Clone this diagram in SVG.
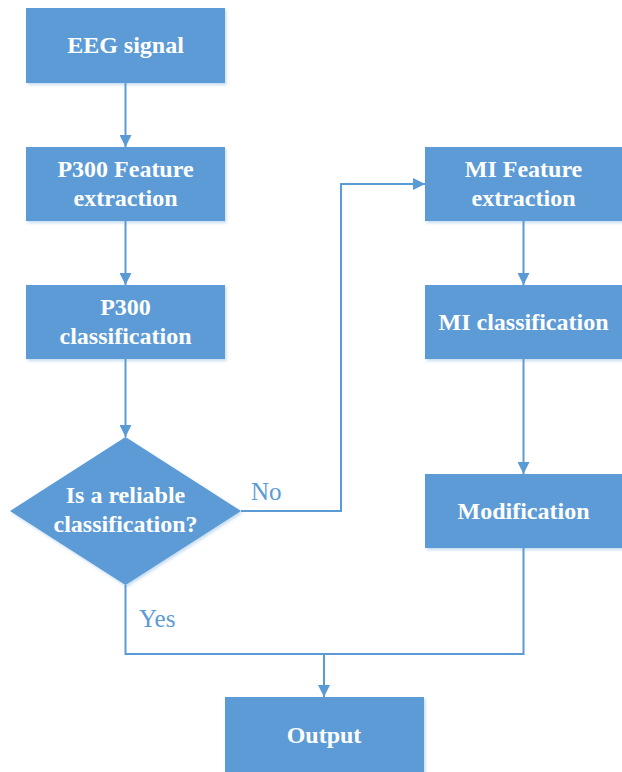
<svg xmlns="http://www.w3.org/2000/svg" width="622" height="772" viewBox="0 0 622 772">
<defs>
<marker id="arr" markerWidth="12" markerHeight="12" refX="12" refY="6" orient="auto" markerUnits="userSpaceOnUse">
<path d="M0,0 L12,6 L0,12 Z" fill="#5B9BD5"/>
</marker>
<filter id="sh" x="-10%" y="-10%" width="130%" height="130%">
<feDropShadow dx="1.5" dy="2" stdDeviation="1.5" flood-color="#5B9BD5" flood-opacity="0.35"/>
</filter>
<style>
.box{fill:#5B9BD5;filter:url(#sh);}
.t{font-family:"Times New Roman","Liberation Serif",Times,serif;font-weight:bold;font-size:24px;fill:#FFFFFF;text-anchor:middle;}
.lbl{font-family:"Times New Roman","Liberation Serif",Times,serif;font-size:25px;fill:#5B9BD5;}
.ln{fill:none;stroke:#5B9BD5;stroke-width:2;}
</style>
</defs>
<rect width="622" height="772" fill="#FFFFFF"/>
<g id="connectors">
<path class="ln" d="M125.5,83 V147" marker-end="url(#arr)"/>
<path class="ln" d="M125.5,221 V285" marker-end="url(#arr)"/>
<path class="ln" d="M125.5,359 V437" marker-end="url(#arr)"/>
<path class="ln" d="M241,511 H341 V184 H425" marker-end="url(#arr)"/>
<path class="ln" d="M523.5,221 V285" marker-end="url(#arr)"/>
<path class="ln" d="M523.5,359 V474" marker-end="url(#arr)"/>
<path class="ln" d="M125.5,585 V654 H523.5 V548"/>
<path class="ln" d="M324,654 V697" marker-end="url(#arr)"/>
<text class="lbl" x="251" y="500">No</text>
<text class="lbl" x="139" y="627">Yes</text>
</g>
<g id="eeg">
<rect class="box" x="26" y="8" width="199" height="75"/>
<text class="t" x="125.5" y="53">EEG signal</text>
</g>
<g id="p300fe">
<rect class="box" x="26" y="147" width="199" height="74"/>
<text class="t" x="125.5" y="177">P300 Feature</text>
<text class="t" x="125.5" y="206">extraction</text>
</g>
<g id="p300cl">
<rect class="box" x="26" y="285" width="199" height="74"/>
<text class="t" x="125.5" y="315">P300</text>
<text class="t" x="125.5" y="344">classification</text>
</g>
<g id="decision">
<polygon class="box" points="125.5,437 241,511 125.5,585 10,511"/>
<text class="t" x="125.5" y="503">Is a reliable</text>
<text class="t" x="125.5" y="532">classification?</text>
</g>
<g id="mife">
<rect class="box" x="425" y="147" width="199" height="74"/>
<text class="t" x="523.5" y="177">MI Feature</text>
<text class="t" x="523.5" y="206">extraction</text>
</g>
<g id="micl">
<rect class="box" x="425" y="285" width="199" height="74"/>
<text class="t" x="523.5" y="330">MI classification</text>
</g>
<g id="mod">
<rect class="box" x="425" y="474" width="199" height="74"/>
<text class="t" x="523.5" y="519">Modification</text>
</g>
<g id="output">
<rect class="box" x="225" y="697" width="199" height="78"/>
<text class="t" x="324" y="743">Output</text>
</g>
</svg>
